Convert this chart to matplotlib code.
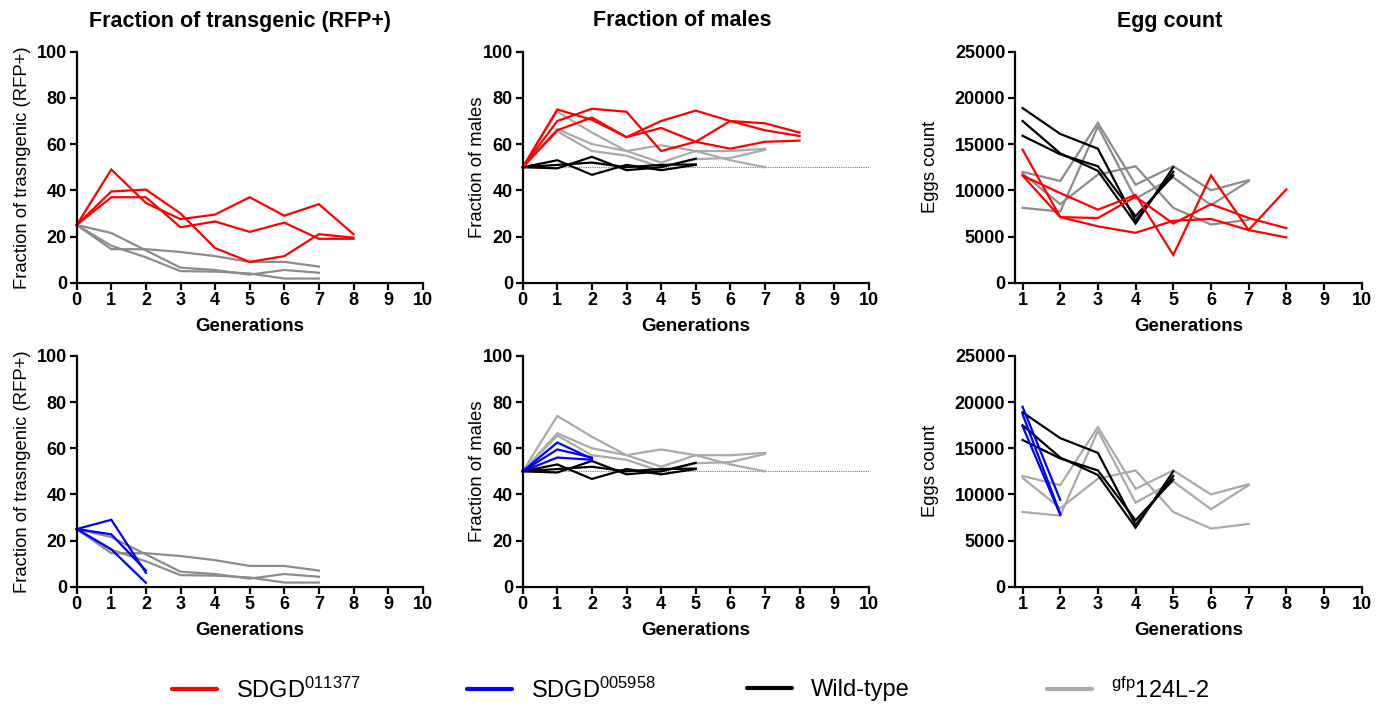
import numpy as np
import matplotlib
matplotlib.use("Agg")
import matplotlib.pyplot as plt
from matplotlib.lines import Line2D

plt.rcParams['font.family'] = ['Liberation Sans', 'DejaVu Sans']
plt.rcParams['mathtext.default'] = 'regular'

# colours
RED = '#ff0000'
BLUE = '#0000ff'
BLACK = '#000000'
GRAY_DARK = '#8c8c8c'
GRAY_LIGHT = '#aaaaaa'

# ---- data ----
# fraction of transgenic (RFP+), generations 0..8
frac_red = [
    [25, 49, 34.5, 27.5, 29.5, 37, 29, 34, 21],
    [25, 39.5, 40.3, 30, 15, 9, 11.5, 21, 19.5],
    [25, 37, 37, 24, 26.5, 22, 26, 19, 19],
]
# gfp124L-2, generations 0..7
frac_gray = [
    [25, 21.5, 14, 6.5, 5.5, 3.5, 5.5, 4.3],
    [25, 14.5, 14.5, 13.3, 11.5, 9, 9, 7],
    [25, 16, 11, 5, 4.8, 4, 1.8, 1.8],
]
# SDGD005958, generations 0..2
frac_blue = [
    [25, 29, 6],
    [25, 22.7, 7],
    [25, 16.2, 1.7],
]

# fraction of males
males_red = [
    [50, 75, 70.5, 63, 67, 61, 58, 61, 61.5],
    [50, 70, 75.3, 74, 57, 61, 70, 69, 65],
    [50, 66, 71.5, 63, 70, 74.5, 70, 66, 63.5],
]
males_gray = [
    [50, 74, 65, 57, 52, 57, 57, 58],
    [50, 66.5, 60, 57, 59.5, 57, 53, 50],
    [50, 65.5, 57, 55, 50, 53.5, 54, 57.5],
]
males_black = [
    [50, 49.5, 54.5, 48.7, 50, 53.7],
    [50, 53, 46.7, 51, 48.7, 51],
    [50, 51, 52, 50, 51, 51.2],
]
males_blue = [
    [50, 62.5, 55.5],
    [50, 59.5, 56],
    [50, 56, 55],
]

# egg counts, generations 1..8
eggs_red = [
    [14400, 7100, 7000, 9300, 6400, 8500, 7000, 5900],
    [11600, 9700, 7900, 9500, 3000, 11600, 5700, 10100],
    [11600, 7100, 6100, 5400, 6700, 6900, 5700, 4900],
]
eggs_gray = [
    [12000, 11000, 17300, 10600, 12600, 10000, 11100],
    [8100, 7700, 16900, 9100, 11400, 8400, 11000],
    [11800, 8500, 11700, 12600, 8100, 6300, 6800],
]
eggs_black = [
    [18900, 16100, 14500, 6700, 12000],
    [17500, 14000, 12100, 6400, 12500],
    [15900, 13900, 12600, 7200, 11600],
]
eggs_blue = [
    [19500, 9400],
    [18700, 7900],
    [17400, 7800],
]

titles = ['Fraction of transgenic (RFP+)', 'Fraction of males', 'Egg count']
legend_labels = ['SDGD$^{011377}$', 'SDGD$^{005958}$', 'Wild-type', '$^{gfp}$124L-2']


def style_axis(ax, xlim, ylim, xticks, yticks, ylabel, ypad):
    ax.set_xlim(*xlim)
    ax.set_ylim(*ylim)
    ax.set_xticks(xticks)
    ax.set_yticks(yticks)
    for s in ['top', 'right']:
        ax.spines[s].set_visible(False)
    for s in ['left', 'bottom']:
        ax.spines[s].set_linewidth(1.6)
    ax.tick_params(direction='out', length=5, width=1.6, labelsize=13, pad=2)
    for lbl in ax.get_xticklabels() + ax.get_yticklabels():
        lbl.set_fontweight('bold')
    ax.set_xlabel('Generations', fontsize=13.5, fontweight='bold', labelpad=6)
    ax.set_ylabel(ylabel, fontsize=13.3, labelpad=ypad)


def draw(ax, series, color, start=0, lw=1.6):
    for s in series:
        x = np.arange(start, start + len(s))
        ax.plot(x, s, color=color, lw=lw, clip_on=False, solid_joinstyle='miter')


fig = plt.figure(figsize=(13.84, 7.13), dpi=100)

W = 1384.0
H = 713.0
col_left = [76.7, 522.7, 1015.0]
col_width = [346.0, 346.0, 346.7]
row_top = [51.7, 356.0]
row_bottom = [282.7, 586.7]

axes = []
for r in range(2):
    row = []
    for c in range(3):
        ax = fig.add_axes([col_left[c] / W, 1 - row_bottom[r] / H,
                           col_width[c] / W, (row_bottom[r] - row_top[r]) / H])
        row.append(ax)
    axes.append(row)

frac_ticks = [0, 20, 40, 60, 80, 100]
egg_ticks = [0, 5000, 10000, 15000, 20000, 25000]

# top row
ax = axes[0][0]
draw(ax, frac_gray, GRAY_DARK)
draw(ax, frac_red, RED)
style_axis(ax, (0, 10), (0, 100), range(0, 11), frac_ticks, 'Fraction of trasngenic (RFP+)', 4)

ax = axes[0][1]
ax.axhline(50, color='#777777', lw=0.8, ls=(0, (1, 1)), zorder=0)
draw(ax, males_gray, GRAY_LIGHT)
draw(ax, males_black, BLACK)
draw(ax, males_red, RED)
style_axis(ax, (0, 10), (0, 100), range(0, 11), frac_ticks, 'Fraction of males', -2)

ax = axes[0][2]
draw(ax, eggs_gray, GRAY_DARK, start=1)
draw(ax, eggs_black, BLACK, start=1)
draw(ax, eggs_red, RED, start=1)
style_axis(ax, (0.8, 10), (0, 25000), range(1, 11), egg_ticks, 'Eggs count', 11.5)

# bottom row
ax = axes[1][0]
draw(ax, frac_gray, GRAY_DARK)
draw(ax, frac_blue, BLUE)
style_axis(ax, (0, 10), (0, 100), range(0, 11), frac_ticks, 'Fraction of trasngenic (RFP+)', 4)

ax = axes[1][1]
ax.axhline(50, color='#777777', lw=0.8, ls=(0, (1, 1)), zorder=0)
draw(ax, males_gray, GRAY_LIGHT)
draw(ax, males_black, BLACK)
draw(ax, males_blue, BLUE)
style_axis(ax, (0, 10), (0, 100), range(0, 11), frac_ticks, 'Fraction of males', -2)

ax = axes[1][2]
draw(ax, eggs_gray, GRAY_LIGHT, start=1)
draw(ax, eggs_black, BLACK, start=1)
draw(ax, eggs_blue, BLUE, start=1)
style_axis(ax, (0.8, 10), (0, 25000), range(1, 11), egg_ticks, 'Eggs count', 11.5)

# column titles
title_x = [240, 682, 1170]
for t, x in zip(titles, title_x):
    fig.text(x / W, 1 - 21 / H, t, ha='center', va='center', fontsize=15.5, fontweight='bold')

# legend along the bottom
legend_colors = [RED, BLUE, BLACK, GRAY_LIGHT]
legend_x = [172, 467, 747, 1047]
for lab, colr, x in zip(legend_labels, legend_colors, legend_x):
    h = Line2D([], [], color=colr, lw=3, solid_capstyle='round')
    fig.legend([h], [lab], loc='center left', bbox_to_anchor=(x / W, 1 - 690 / H),
               frameon=False, fontsize=17, handlelength=1.9, handletextpad=0.8,
               borderaxespad=0, borderpad=0)

fig.savefig('out.png', dpi=100)
